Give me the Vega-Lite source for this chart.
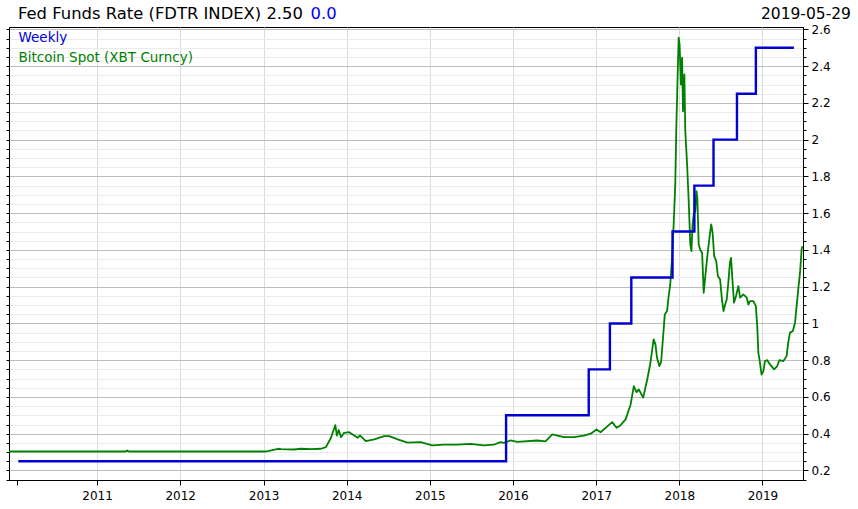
{
  "$schema": "https://vega.github.io/schema/vega-lite/v6.json",
  "width": 794,
  "height": 453,
  "autosize": {"type": "none"},
  "padding": {"left": 9, "top": 27, "right": 55, "bottom": 29},
  "background": "white",
  "config": {
    "font": "DejaVu Sans",
    "view": {"stroke": "black", "strokeWidth": 1},
    "axis": {"labelFont": "DejaVu Sans", "labelColor": "black", "domainColor": "black", "tickColor": "black"}
  },
  "datasets": {
    "fed": [
      {"date": "2010-01-20", "value": 0.25, "series": "Weekly"},
      {"date": "2015-12-02", "value": 0.5, "series": "Weekly"},
      {"date": "2016-11-29", "value": 0.75, "series": "Weekly"},
      {"date": "2017-03-02", "value": 1.0, "series": "Weekly"},
      {"date": "2017-06-04", "value": 1.25, "series": "Weekly"},
      {"date": "2017-12-02", "value": 1.5, "series": "Weekly"},
      {"date": "2018-03-08", "value": 1.75, "series": "Weekly"},
      {"date": "2018-05-31", "value": 2.0, "series": "Weekly"},
      {"date": "2018-09-11", "value": 2.25, "series": "Weekly"},
      {"date": "2018-12-03", "value": 2.5, "series": "Weekly"},
      {"date": "2019-05-19", "value": 2.5, "series": "Weekly"}
    ],
    "btc": [
      {"date": "2009-12-10", "value": 0.303, "series": "Bitcoin Spot (XBT Curncy)"},
      {"date": "2011-05-06", "value": 0.303, "series": "Bitcoin Spot (XBT Curncy)"},
      {"date": "2011-05-13", "value": 0.309, "series": "Bitcoin Spot (XBT Curncy)"},
      {"date": "2011-05-20", "value": 0.303, "series": "Bitcoin Spot (XBT Curncy)"},
      {"date": "2013-01-07", "value": 0.303, "series": "Bitcoin Spot (XBT Curncy)"},
      {"date": "2013-01-20", "value": 0.305, "series": "Bitcoin Spot (XBT Curncy)"},
      {"date": "2013-03-06", "value": 0.318, "series": "Bitcoin Spot (XBT Curncy)"},
      {"date": "2013-03-19", "value": 0.316, "series": "Bitcoin Spot (XBT Curncy)"},
      {"date": "2013-05-15", "value": 0.314, "series": "Bitcoin Spot (XBT Curncy)"},
      {"date": "2013-06-15", "value": 0.318, "series": "Bitcoin Spot (XBT Curncy)"},
      {"date": "2013-07-28", "value": 0.316, "series": "Bitcoin Spot (XBT Curncy)"},
      {"date": "2013-09-10", "value": 0.318, "series": "Bitcoin Spot (XBT Curncy)"},
      {"date": "2013-10-02", "value": 0.327, "series": "Bitcoin Spot (XBT Curncy)"},
      {"date": "2013-10-24", "value": 0.378, "series": "Bitcoin Spot (XBT Curncy)"},
      {"date": "2013-11-12", "value": 0.447, "series": "Bitcoin Spot (XBT Curncy)"},
      {"date": "2013-11-19", "value": 0.39, "series": "Bitcoin Spot (XBT Curncy)"},
      {"date": "2013-11-27", "value": 0.42, "series": "Bitcoin Spot (XBT Curncy)"},
      {"date": "2013-12-07", "value": 0.381, "series": "Bitcoin Spot (XBT Curncy)"},
      {"date": "2013-12-21", "value": 0.405, "series": "Bitcoin Spot (XBT Curncy)"},
      {"date": "2014-01-12", "value": 0.408, "series": "Bitcoin Spot (XBT Curncy)"},
      {"date": "2014-02-03", "value": 0.39, "series": "Bitcoin Spot (XBT Curncy)"},
      {"date": "2014-02-18", "value": 0.378, "series": "Bitcoin Spot (XBT Curncy)"},
      {"date": "2014-03-01", "value": 0.39, "series": "Bitcoin Spot (XBT Curncy)"},
      {"date": "2014-03-26", "value": 0.36, "series": "Bitcoin Spot (XBT Curncy)"},
      {"date": "2014-05-02", "value": 0.369, "series": "Bitcoin Spot (XBT Curncy)"},
      {"date": "2014-06-15", "value": 0.387, "series": "Bitcoin Spot (XBT Curncy)"},
      {"date": "2014-07-07", "value": 0.387, "series": "Bitcoin Spot (XBT Curncy)"},
      {"date": "2014-08-13", "value": 0.369, "series": "Bitcoin Spot (XBT Curncy)"},
      {"date": "2014-09-25", "value": 0.351, "series": "Bitcoin Spot (XBT Curncy)"},
      {"date": "2014-11-22", "value": 0.354, "series": "Bitcoin Spot (XBT Curncy)"},
      {"date": "2015-01-12", "value": 0.336, "series": "Bitcoin Spot (XBT Curncy)"},
      {"date": "2015-03-04", "value": 0.34, "series": "Bitcoin Spot (XBT Curncy)"},
      {"date": "2015-05-02", "value": 0.34, "series": "Bitcoin Spot (XBT Curncy)"},
      {"date": "2015-06-29", "value": 0.345, "series": "Bitcoin Spot (XBT Curncy)"},
      {"date": "2015-08-26", "value": 0.336, "series": "Bitcoin Spot (XBT Curncy)"},
      {"date": "2015-10-09", "value": 0.34, "series": "Bitcoin Spot (XBT Curncy)"},
      {"date": "2015-11-07", "value": 0.354, "series": "Bitcoin Spot (XBT Curncy)"},
      {"date": "2015-11-22", "value": 0.35, "series": "Bitcoin Spot (XBT Curncy)"},
      {"date": "2015-12-14", "value": 0.36, "series": "Bitcoin Spot (XBT Curncy)"},
      {"date": "2015-12-21", "value": 0.363, "series": "Bitcoin Spot (XBT Curncy)"},
      {"date": "2016-01-20", "value": 0.356, "series": "Bitcoin Spot (XBT Curncy)"},
      {"date": "2016-04-17", "value": 0.363, "series": "Bitcoin Spot (XBT Curncy)"},
      {"date": "2016-05-23", "value": 0.358, "series": "Bitcoin Spot (XBT Curncy)"},
      {"date": "2016-06-22", "value": 0.396, "series": "Bitcoin Spot (XBT Curncy)"},
      {"date": "2016-07-14", "value": 0.39, "series": "Bitcoin Spot (XBT Curncy)"},
      {"date": "2016-08-12", "value": 0.381, "series": "Bitcoin Spot (XBT Curncy)"},
      {"date": "2016-09-25", "value": 0.381, "series": "Bitcoin Spot (XBT Curncy)"},
      {"date": "2016-11-08", "value": 0.39, "series": "Bitcoin Spot (XBT Curncy)"},
      {"date": "2016-12-08", "value": 0.40, "series": "Bitcoin Spot (XBT Curncy)"},
      {"date": "2017-01-02", "value": 0.423, "series": "Bitcoin Spot (XBT Curncy)"},
      {"date": "2017-01-20", "value": 0.408, "series": "Bitcoin Spot (XBT Curncy)"},
      {"date": "2017-02-11", "value": 0.432, "series": "Bitcoin Spot (XBT Curncy)"},
      {"date": "2017-03-12", "value": 0.463, "series": "Bitcoin Spot (XBT Curncy)"},
      {"date": "2017-03-31", "value": 0.432, "series": "Bitcoin Spot (XBT Curncy)"},
      {"date": "2017-04-17", "value": 0.445, "series": "Bitcoin Spot (XBT Curncy)"},
      {"date": "2017-05-10", "value": 0.478, "series": "Bitcoin Spot (XBT Curncy)"},
      {"date": "2017-06-01", "value": 0.559, "series": "Bitcoin Spot (XBT Curncy)"},
      {"date": "2017-06-15", "value": 0.659, "series": "Bitcoin Spot (XBT Curncy)"},
      {"date": "2017-06-27", "value": 0.626, "series": "Bitcoin Spot (XBT Curncy)"},
      {"date": "2017-07-07", "value": 0.641, "series": "Bitcoin Spot (XBT Curncy)"},
      {"date": "2017-07-26", "value": 0.596, "series": "Bitcoin Spot (XBT Curncy)"},
      {"date": "2017-08-13", "value": 0.695, "series": "Bitcoin Spot (XBT Curncy)"},
      {"date": "2017-08-27", "value": 0.786, "series": "Bitcoin Spot (XBT Curncy)"},
      {"date": "2017-09-10", "value": 0.913, "series": "Bitcoin Spot (XBT Curncy)"},
      {"date": "2017-09-18", "value": 0.886, "series": "Bitcoin Spot (XBT Curncy)"},
      {"date": "2017-09-25", "value": 0.813, "series": "Bitcoin Spot (XBT Curncy)"},
      {"date": "2017-10-05", "value": 0.768, "series": "Bitcoin Spot (XBT Curncy)"},
      {"date": "2017-10-13", "value": 0.79, "series": "Bitcoin Spot (XBT Curncy)"},
      {"date": "2017-10-24", "value": 0.967, "series": "Bitcoin Spot (XBT Curncy)"},
      {"date": "2017-10-29", "value": 1.049, "series": "Bitcoin Spot (XBT Curncy)"},
      {"date": "2017-11-08", "value": 1.067, "series": "Bitcoin Spot (XBT Curncy)"},
      {"date": "2017-11-15", "value": 1.149, "series": "Bitcoin Spot (XBT Curncy)"},
      {"date": "2017-11-22", "value": 1.212, "series": "Bitcoin Spot (XBT Curncy)"},
      {"date": "2017-11-30", "value": 1.357, "series": "Bitcoin Spot (XBT Curncy)"},
      {"date": "2017-12-07", "value": 1.539, "series": "Bitcoin Spot (XBT Curncy)"},
      {"date": "2017-12-14", "value": 1.757, "series": "Bitcoin Spot (XBT Curncy)"},
      {"date": "2017-12-19", "value": 2.083, "series": "Bitcoin Spot (XBT Curncy)"},
      {"date": "2017-12-25", "value": 2.373, "series": "Bitcoin Spot (XBT Curncy)"},
      {"date": "2017-12-29", "value": 2.555, "series": "Bitcoin Spot (XBT Curncy)"},
      {"date": "2018-01-02", "value": 2.518, "series": "Bitcoin Spot (XBT Curncy)"},
      {"date": "2018-01-08", "value": 2.30, "series": "Bitcoin Spot (XBT Curncy)"},
      {"date": "2018-01-13", "value": 2.446, "series": "Bitcoin Spot (XBT Curncy)"},
      {"date": "2018-01-17", "value": 2.155, "series": "Bitcoin Spot (XBT Curncy)"},
      {"date": "2018-01-23", "value": 2.355, "series": "Bitcoin Spot (XBT Curncy)"},
      {"date": "2018-01-27", "value": 2.047, "series": "Bitcoin Spot (XBT Curncy)"},
      {"date": "2018-02-04", "value": 1.865, "series": "Bitcoin Spot (XBT Curncy)"},
      {"date": "2018-02-11", "value": 1.666, "series": "Bitcoin Spot (XBT Curncy)"},
      {"date": "2018-02-18", "value": 1.43, "series": "Bitcoin Spot (XBT Curncy)"},
      {"date": "2018-02-23", "value": 1.393, "series": "Bitcoin Spot (XBT Curncy)"},
      {"date": "2018-02-28", "value": 1.539, "series": "Bitcoin Spot (XBT Curncy)"},
      {"date": "2018-03-05", "value": 1.593, "series": "Bitcoin Spot (XBT Curncy)"},
      {"date": "2018-03-12", "value": 1.611, "series": "Bitcoin Spot (XBT Curncy)"},
      {"date": "2018-03-17", "value": 1.72, "series": "Bitcoin Spot (XBT Curncy)"},
      {"date": "2018-03-21", "value": 1.684, "series": "Bitcoin Spot (XBT Curncy)"},
      {"date": "2018-03-27", "value": 1.43, "series": "Bitcoin Spot (XBT Curncy)"},
      {"date": "2018-04-03", "value": 1.40, "series": "Bitcoin Spot (XBT Curncy)"},
      {"date": "2018-04-11", "value": 1.385, "series": "Bitcoin Spot (XBT Curncy)"},
      {"date": "2018-04-18", "value": 1.167, "series": "Bitcoin Spot (XBT Curncy)"},
      {"date": "2018-04-25", "value": 1.258, "series": "Bitcoin Spot (XBT Curncy)"},
      {"date": "2018-05-03", "value": 1.357, "series": "Bitcoin Spot (XBT Curncy)"},
      {"date": "2018-05-14", "value": 1.475, "series": "Bitcoin Spot (XBT Curncy)"},
      {"date": "2018-05-21", "value": 1.539, "series": "Bitcoin Spot (XBT Curncy)"},
      {"date": "2018-05-27", "value": 1.494, "series": "Bitcoin Spot (XBT Curncy)"},
      {"date": "2018-06-03", "value": 1.366, "series": "Bitcoin Spot (XBT Curncy)"},
      {"date": "2018-06-12", "value": 1.339, "series": "Bitcoin Spot (XBT Curncy)"},
      {"date": "2018-06-19", "value": 1.258, "series": "Bitcoin Spot (XBT Curncy)"},
      {"date": "2018-06-29", "value": 1.239, "series": "Bitcoin Spot (XBT Curncy)"},
      {"date": "2018-07-07", "value": 1.13, "series": "Bitcoin Spot (XBT Curncy)"},
      {"date": "2018-07-14", "value": 1.067, "series": "Bitcoin Spot (XBT Curncy)"},
      {"date": "2018-07-21", "value": 1.103, "series": "Bitcoin Spot (XBT Curncy)"},
      {"date": "2018-07-28", "value": 1.13, "series": "Bitcoin Spot (XBT Curncy)"},
      {"date": "2018-08-04", "value": 1.221, "series": "Bitcoin Spot (XBT Curncy)"},
      {"date": "2018-08-11", "value": 1.33, "series": "Bitcoin Spot (XBT Curncy)"},
      {"date": "2018-08-16", "value": 1.357, "series": "Bitcoin Spot (XBT Curncy)"},
      {"date": "2018-08-22", "value": 1.239, "series": "Bitcoin Spot (XBT Curncy)"},
      {"date": "2018-08-29", "value": 1.113, "series": "Bitcoin Spot (XBT Curncy)"},
      {"date": "2018-09-07", "value": 1.149, "series": "Bitcoin Spot (XBT Curncy)"},
      {"date": "2018-09-17", "value": 1.203, "series": "Bitcoin Spot (XBT Curncy)"},
      {"date": "2018-09-25", "value": 1.14, "series": "Bitcoin Spot (XBT Curncy)"},
      {"date": "2018-10-09", "value": 1.158, "series": "Bitcoin Spot (XBT Curncy)"},
      {"date": "2018-10-24", "value": 1.14, "series": "Bitcoin Spot (XBT Curncy)"},
      {"date": "2018-10-31", "value": 1.103, "series": "Bitcoin Spot (XBT Curncy)"},
      {"date": "2018-11-07", "value": 1.121, "series": "Bitcoin Spot (XBT Curncy)"},
      {"date": "2018-11-22", "value": 1.121, "series": "Bitcoin Spot (XBT Curncy)"},
      {"date": "2018-12-03", "value": 1.094, "series": "Bitcoin Spot (XBT Curncy)"},
      {"date": "2018-12-09", "value": 0.985, "series": "Bitcoin Spot (XBT Curncy)"},
      {"date": "2018-12-14", "value": 0.84, "series": "Bitcoin Spot (XBT Curncy)"},
      {"date": "2018-12-20", "value": 0.795, "series": "Bitcoin Spot (XBT Curncy)"},
      {"date": "2018-12-28", "value": 0.722, "series": "Bitcoin Spot (XBT Curncy)"},
      {"date": "2019-01-05", "value": 0.74, "series": "Bitcoin Spot (XBT Curncy)"},
      {"date": "2019-01-12", "value": 0.795, "series": "Bitcoin Spot (XBT Curncy)"},
      {"date": "2019-01-22", "value": 0.80, "series": "Bitcoin Spot (XBT Curncy)"},
      {"date": "2019-02-03", "value": 0.777, "series": "Bitcoin Spot (XBT Curncy)"},
      {"date": "2019-02-21", "value": 0.75, "series": "Bitcoin Spot (XBT Curncy)"},
      {"date": "2019-03-07", "value": 0.768, "series": "Bitcoin Spot (XBT Curncy)"},
      {"date": "2019-03-16", "value": 0.80, "series": "Bitcoin Spot (XBT Curncy)"},
      {"date": "2019-04-03", "value": 0.795, "series": "Bitcoin Spot (XBT Curncy)"},
      {"date": "2019-04-17", "value": 0.822, "series": "Bitcoin Spot (XBT Curncy)"},
      {"date": "2019-04-24", "value": 0.895, "series": "Bitcoin Spot (XBT Curncy)"},
      {"date": "2019-05-02", "value": 0.95, "series": "Bitcoin Spot (XBT Curncy)"},
      {"date": "2019-05-14", "value": 0.958, "series": "Bitcoin Spot (XBT Curncy)"},
      {"date": "2019-05-24", "value": 1.004, "series": "Bitcoin Spot (XBT Curncy)"},
      {"date": "2019-05-31", "value": 1.094, "series": "Bitcoin Spot (XBT Curncy)"},
      {"date": "2019-06-07", "value": 1.185, "series": "Bitcoin Spot (XBT Curncy)"},
      {"date": "2019-06-15", "value": 1.276, "series": "Bitcoin Spot (XBT Curncy)"},
      {"date": "2019-06-22", "value": 1.403, "series": "Bitcoin Spot (XBT Curncy)"},
      {"date": "2019-06-25", "value": 1.42, "series": "Bitcoin Spot (XBT Curncy)"}
    ]
  },
  "resolve": {"axis": {"y": "independent"}},
  "layer": [
    {
      "data": {"name": "btc"},
      "mark": {"type": "line", "strokeWidth": 1.8, "strokeJoin": "round", "clip": true},
      "encoding": {
        "x": {
          "field": "date", "type": "temporal",
          "scale": {"type": "utc", "domain": [{"year": 2009, "month": 12, "date": 10, "utc": true}, {"year": 2019, "month": 6, "date": 28, "utc": true}], "nice": false},
          "axis": {
            "orient": "bottom",
            "title": null,
            "values": [
              {"year": 2010, "month": 1, "date": 16, "utc": true},
              {"year": 2011, "month": 1, "date": 1, "utc": true},
              {"year": 2012, "month": 1, "date": 1, "utc": true},
              {"year": 2013, "month": 1, "date": 1, "utc": true},
              {"year": 2014, "month": 1, "date": 1, "utc": true},
              {"year": 2015, "month": 1, "date": 1, "utc": true},
              {"year": 2016, "month": 1, "date": 1, "utc": true},
              {"year": 2017, "month": 1, "date": 1, "utc": true},
              {"year": 2018, "month": 1, "date": 1, "utc": true},
              {"year": 2019, "month": 1, "date": 1, "utc": true}
            ],
            "labelExpr": "utcyear(datum.value) == 2010 ? '' : utcFormat(datum.value, '%Y')",
            "labelFontSize": 12,
            "labelPadding": 5,
            "labelOverlap": false,
            "labelBound": false,
            "labelFlush": false,
            "tickSize": 5,
            "grid": true,
            "gridColor": {"condition": {"test": "utcyear(datum.value) == 2010", "value": "transparent"}, "value": "#dcdcdc"},
            "gridWidth": 1,
            "domainColor": "black"
          }
        },
        "y": {
          "field": "value", "type": "quantitative",
          "scale": {"domain": [0.148, 2.613], "nice": false, "zero": false},
          "axis": {
            "orient": "left",
            "title": null,
            "values": [0.15,0.2,0.25,0.3,0.35,0.4,0.45,0.5,0.55,0.6,0.65,0.7,0.75,0.8,0.85,0.9,0.95,1.0,1.05,1.1,1.15,1.2,1.25,1.3,1.35,1.4,1.45,1.5,1.55,1.6,1.65,1.7,1.75,1.8,1.85,1.9,1.95,2.0,2.05,2.1,2.15,2.2,2.25,2.3,2.35,2.4,2.45,2.5,2.55,2.6],
            "labels": false,
            "grid": false,
            "tickSize": 3,
            "domainColor": "black"
          }
        },
        "color": {
          "field": "series", "type": "nominal",
          "scale": {"domain": ["Weekly", "Bitcoin Spot (XBT Curncy)"], "range": ["#0000d0", "#008000"]},
          "legend": {
            "orient": "none",
            "legendX": -4,
            "legendY": 4,
            "title": null,
            "padding": 0,
            "symbolSize": 0,
            "symbolStrokeWidth": 0,
            "symbolOpacity": 0,
            "labelOffset": 0,
            "labelFont": "DejaVu Sans",
            "labelFontSize": 13.5,
            "labelLimit": 400,
            "rowPadding": 5.5,
            "encode": {"labels": {"update": {"fill": {"scale": "color", "field": "value"}}}}
          }
        }
      }
    },
    {
      "data": {"name": "fed"},
      "mark": {"type": "line", "strokeWidth": 2.4, "interpolate": "step-after", "clip": true},
      "encoding": {
        "x": {"field": "date", "type": "temporal"},
        "y": {
          "field": "value", "type": "quantitative",
          "axis": {
            "orient": "right",
            "title": null,
            "values": [0.15,0.2,0.25,0.3,0.35,0.4,0.45,0.5,0.55,0.6,0.65,0.7,0.75,0.8,0.85,0.9,0.95,1.0,1.05,1.1,1.15,1.2,1.25,1.3,1.35,1.4,1.45,1.5,1.55,1.6,1.65,1.7,1.75,1.8,1.85,1.9,1.95,2.0,2.05,2.1,2.15,2.2,2.25,2.3,2.35,2.4,2.45,2.5,2.55,2.6],
            "labelExpr": "abs(datum.value * 5 - round(datum.value * 5)) < 0.001 ? format(datum.value, '.1~f') : ''",
            "labelFontSize": 12,
            "labelPadding": 3,
            "labelOverlap": false,
            "labelBound": false,
            "labelFlush": false,
            "tickSize": {"condition": {"test": "abs(datum.value * 5 - round(datum.value * 5)) < 0.001", "value": 5}, "value": 3},
            "grid": true,
            "gridColor": {"condition": {"test": "abs(datum.value * 5 - round(datum.value * 5)) < 0.001", "value": "#bdbdbd"}, "value": "#ebebeb"},
            "gridWidth": 1,
            "domainColor": "black"
          }
        },
        "color": {"field": "series", "type": "nominal"}
      }
    },
    {
      "data": {"values": [{"label": "Fed Funds Rate (FDTR INDEX) 2.50"}]},
      "mark": {"type": "text", "align": "left", "baseline": "alphabetic", "fontSize": 16.4, "font": "DejaVu Sans", "color": "black"},
      "encoding": {
        "text": {"field": "label", "type": "nominal"},
        "x": {"value": 9},
        "y": {"value": -8.5}
      }
    },
    {
      "data": {"values": [{"label": "0.0"}]},
      "mark": {"type": "text", "align": "left", "baseline": "alphabetic", "fontSize": 16.4, "font": "DejaVu Sans", "color": "#0000ff"},
      "encoding": {
        "text": {"field": "label", "type": "nominal"},
        "x": {"value": 301.5},
        "y": {"value": -8.5}
      }
    },
    {
      "data": {"values": [{"label": "2019-05-29"}]},
      "mark": {"type": "text", "align": "right", "baseline": "alphabetic", "fontSize": 15.5, "font": "DejaVu Sans", "color": "black"},
      "encoding": {
        "text": {"field": "label", "type": "nominal"},
        "x": {"value": 842},
        "y": {"value": -8}
      }
    }
  ]
}
